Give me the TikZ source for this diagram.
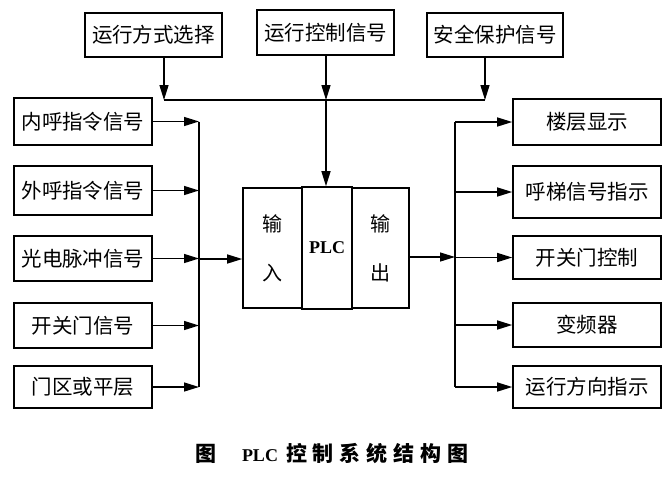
\documentclass[tikz,border=0pt]{standalone}
\usepackage{fontspec}
\setmainfont{Liberation Serif}
\newfontfamily\cjk{Noto Sans CJK SC}
\usetikzlibrary{arrows.meta}
\newcommand{\capsp}{\hspace{6pt}}
\begin{document}
\begin{tikzpicture}[x=1pt,y=-1pt,
  box/.style={draw,line width=1.6pt,inner sep=0pt,font=\cjk\fontsize{20.5}{24}\selectfont},
  conn/.style={line width=1.4pt},
  arr/.style={conn,-{Triangle[length=15pt,width=9pt]}},
  col/.style={draw,line width=1.6pt,inner sep=0pt,minimum height=120pt,align=center}]
\useasboundingbox (0,0) rectangle (665,480);
% top boxes
\node[box,minimum width=137pt,minimum height=44pt] (t1) at (153.5,35) {运行方式选择};
\node[box,minimum width=137pt,minimum height=45pt] (t2) at (325.5,32.5) {运行控制信号};
\node[box,minimum width=136pt,minimum height=44pt] (t3) at (495,35) {安全保护信号};
% left boxes
\node[box,minimum width=138pt,minimum height=47pt] (l1) at (83,121.5) {内呼指令信号};
\node[box,minimum width=138pt,minimum height=49pt] (l2) at (83,190.5) {外呼指令信号};
\node[box,minimum width=138pt,minimum height=45pt] (l3) at (83,258.5) {光电脉冲信号};
\node[box,minimum width=138pt,minimum height=45pt] (l4) at (83,325.5) {开关门信号};
\node[box,minimum width=138pt,minimum height=42pt] (l5) at (83,387) {门区或平层};
% right boxes
\node[box,minimum width=148pt,minimum height=46pt] (r1) at (587,122) {楼层显示};
\node[box,minimum width=148pt,minimum height=52pt] (r2) at (587,192) {呼梯信号指示};
\node[box,minimum width=148pt,minimum height=43pt] (r3) at (587,257.5) {开关门控制};
\node[box,minimum width=148pt,minimum height=44pt] (r4) at (587,325) {变频器};
\node[box,minimum width=148pt,minimum height=42pt] (r5) at (587,387) {运行方向指示};
% PLC
\node[col,minimum width=59pt,font=\cjk\fontsize{20}{49}\selectfont] (in) at (272.5,248) {输\\入};
\node[col,minimum width=50pt,minimum height=122pt,font=\bfseries\fontsize{18}{20}\selectfont] (plc) at (327,248) {PLC};
\node[col,minimum width=57pt,font=\cjk\fontsize{20}{49}\selectfont] (out) at (380.5,248) {输\\出};
% coordinates
\coordinate (a1) at (164,100);
\coordinate (a2) at (326,100);
\coordinate (a3) at (485,100);
\coordinate (busL) at (199,0);
\coordinate (busR) at (455,0);
\coordinate (jL) at (199,259);
\coordinate (jR) at (455,257);
% top connectors
\draw[arr] (t1.south -| a1) -- (a1);
\draw[arr] (t3.south -| a3) -- (a3);
\draw[arr] (t2.south -| a2) -- (a2);
\draw[conn] (a1) -- (a3);
\draw[arr] (a2) -- (a2 |- plc.north);
% left
\foreach \n in {l1,l2,l3,l4,l5}{\draw[arr] (\n.east) -- (\n.east -| busL);}
\draw[conn] (l1.east -| busL) -- (l5.east -| busL);
\draw[arr] (jL) -- (jL -| in.west);
% right
\foreach \n in {r1,r2,r3,r4,r5}{\draw[arr] (\n.west -| busR) -- (\n.west);}
\draw[conn] (r1.west -| busR) -- (r5.west -| busR);
\draw[arr] (jR -| out.east) -- (jR);
% caption
\node[font=\cjk\fontsize{21}{24}\selectfont] (cap) at (332,453) {\textbf{图}\hspace{26pt}{\rmfamily\bfseries\fontsize{18}{20}\selectfont PLC}\hspace{8pt}\textbf{控}\capsp\textbf{制}\capsp\textbf{系}\capsp\textbf{统}\capsp\textbf{结}\capsp\textbf{构}\capsp\textbf{图}};
\end{tikzpicture}
\end{document}
